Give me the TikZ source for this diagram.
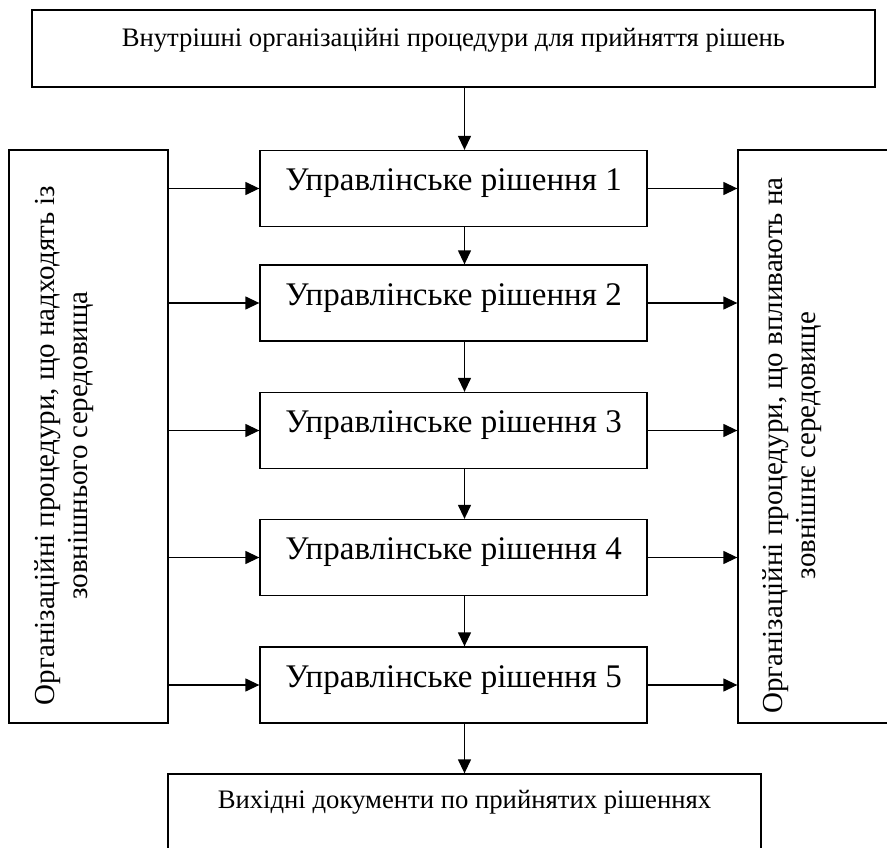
\documentclass[tikz,border=0pt]{standalone}
\usepackage{fontspec}
\setmainfont{Liberation Serif}
\usetikzlibrary{arrows.meta,positioning}

\begin{document}
\begin{tikzpicture}[x=1pt,y=-1pt,
	box/.style={draw, line width=1.3pt, inner sep=0pt},
	decision/.style={box, minimum width=387pt, minimum height=76pt, text height=24pt, text depth=20pt, font=\fontsize{33}{40}\selectfont},
	sidetext/.style={rotate=90, anchor=north, align=center, inner sep=0pt, font=\fontsize{29}{33}\selectfont},
	arr/.style={line width=1.3pt, -{Triangle[length=14pt,width=13pt]}}]
	\clip (0,0) rectangle (887,848);
	\node (inner) [box, minimum width=843pt, minimum height=77pt, text height=20pt, text depth=23pt, font=\fontsize{26.7}{32}\selectfont] at (453.5,48.5) {Внутрішні організаційні процедури для прийняття рішень};
	\node (source) [box, minimum width=159pt, minimum height=573pt] at (88.5,436.5) {};
	\node (effect) [box, minimum width=172pt, minimum height=573pt] at (824,436.5) {};
	\node (sol1) [decision] at (453.5,188.5) {Управлінське рішення 1};
	\node (sol2) [decision] at (453.5,303) {Управлінське рішення 2};
	\node (sol3) [decision] at (453.5,430.5) {Управлінське рішення 3};
	\node (sol4) [decision] at (453.5,557.5) {Управлінське рішення 4};
	\node (sol5) [decision] at (453.5,685) {Управлінське рішення 5};
	\node (result) [box, minimum width=593pt, minimum height=76pt, text height=20pt, text depth=28pt, font=\fontsize{26.7}{32}\selectfont] at (464.5,812) {Вихідні документи по прийнятих рішеннях};
	\node (sourcetxt) [sidetext] at ([xshift=26pt,yshift=-9pt]source.west) {Організаційні процедури, що надходять із\\зовнішнього середовища};
	\node (effecttxt) [sidetext] at ([xshift=25pt,yshift=-9pt]effect.west) {Організаційні процедури, що впливають на\\зовнішнє середовище};

	\draw[arr] (inner.south -| result.north) -- (sol1.north -| result.north);
	\draw[arr] (sol1.south -| result.north) -- (sol2.north -| result.north);
	\draw[arr] (sol2.south -| result.north) -- (sol3.north -| result.north);
	\draw[arr] (sol3.south -| result.north) -- (sol4.north -| result.north);
	\draw[arr] (sol4.south -| result.north) -- (sol5.north -| result.north);
	\draw[arr] (sol5.south -| result.north) -- (result.north);

	\draw[arr] (source.east |- sol1) -- (sol1.west);
	\draw[arr] (source.east |- sol2) -- (sol2.west);
	\draw[arr] (source.east |- sol3) -- (sol3.west);
	\draw[arr] (source.east |- sol4) -- (sol4.west);
	\draw[arr] (source.east |- sol5) -- (sol5.west);
	\draw[arr] (sol1.east) -- (effect.west |- sol1);
	\draw[arr] (sol2.east) -- (effect.west |- sol2);
	\draw[arr] (sol3.east) -- (effect.west |- sol3);
	\draw[arr] (sol4.east) -- (effect.west |- sol4);
	\draw[arr] (sol5.east) -- (effect.west |- sol5);
\end{tikzpicture}
\end{document}
